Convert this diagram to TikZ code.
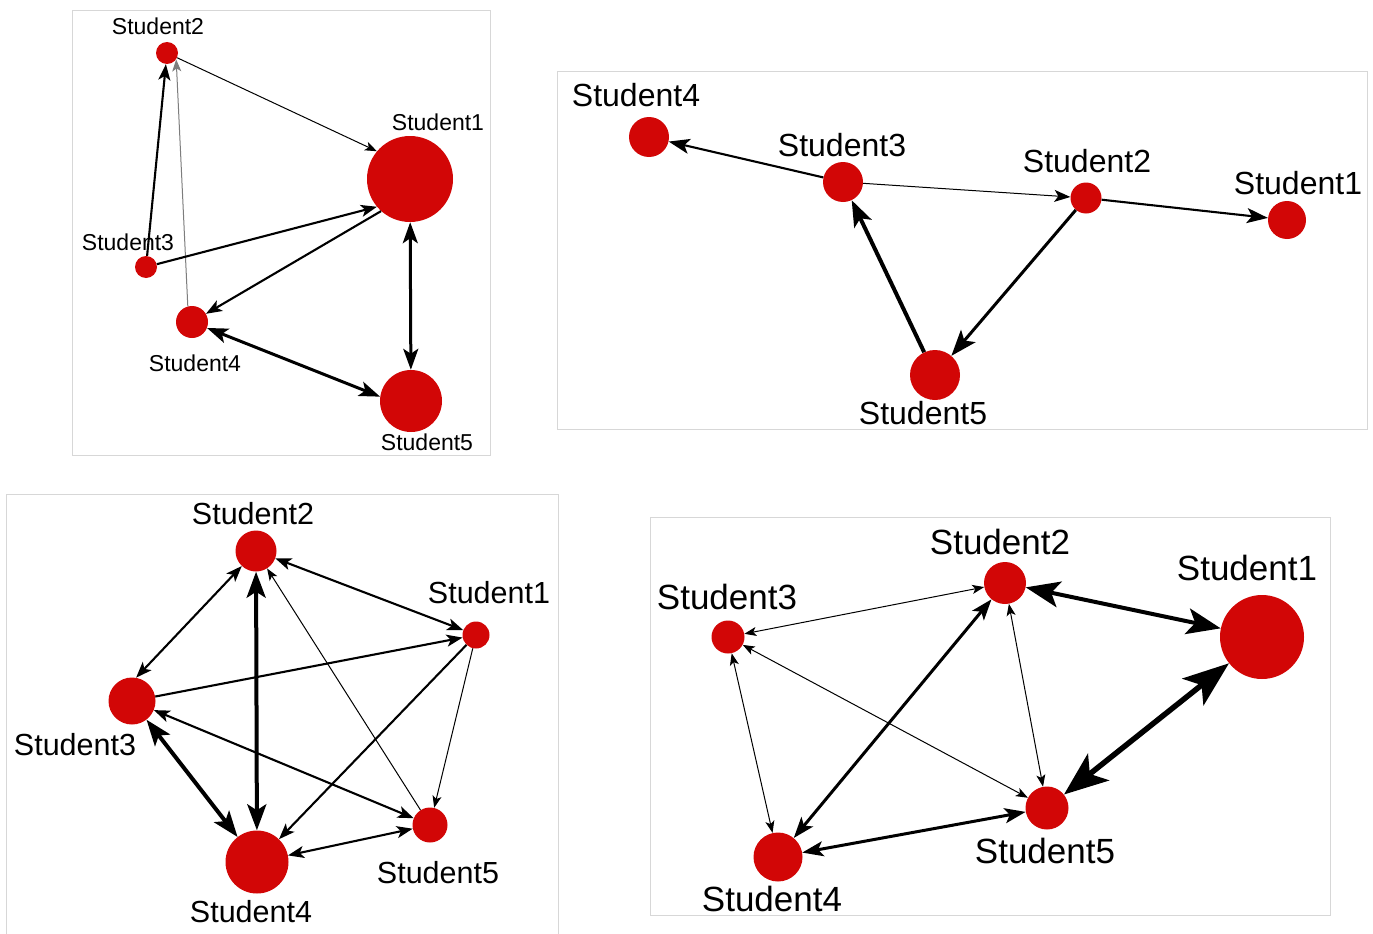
\documentclass[tikz,border=0pt]{standalone}
\usepackage{fontspec}
\setmainfont{Liberation Sans}
\usetikzlibrary{arrows.meta}
\definecolor{nodered}{RGB}{210,6,6}
\definecolor{framegray}{RGB}{215,215,215}
\definecolor{thingray}{RGB}{125,125,125}
\begin{document}
\begin{tikzpicture}[x=1pt,y=-1pt,
  nd/.style={circle,fill=nodered,draw=none,inner sep=0pt,minimum size=#1},
  fr/.style={draw=framegray,line width=0.8pt},
  la/.style={font=\fontsize{23}{25}\selectfont,inner sep=0pt},
  lb/.style={font=\fontsize{32}{35}\selectfont,inner sep=0pt},
  lc/.style={font=\fontsize{30.5}{33}\selectfont,inner sep=0pt},
  ld/.style={font=\fontsize{35}{38}\selectfont,inner sep=0pt},
  wa/.style={line width=1pt},
  wb/.style={line width=2.1pt},
  wc/.style={line width=3pt},
  wd/.style={line width=4pt},
  we/.style={line width=5.5pt},
  ta/.style={arrows={-Stealth[length=12pt,width=9pt,inset=3pt]}},
  tb/.style={arrows={-Stealth[length=16pt,width=12pt,inset=4pt]}},
  tc/.style={arrows={-Stealth[length=21pt,width=15pt,inset=5pt]}},
  td/.style={arrows={-Stealth[length=26pt,width=19pt,inset=6pt]}},
  tta/.style={arrows={Stealth[length=12pt,width=9pt,inset=3pt]-Stealth[length=12pt,width=9pt,inset=3pt]}},
  ttb/.style={arrows={Stealth[length=16pt,width=12pt,inset=4pt]-Stealth[length=16pt,width=12pt,inset=4pt]}},
  ttc/.style={arrows={Stealth[length=21pt,width=15pt,inset=5pt]-Stealth[length=21pt,width=15pt,inset=5pt]}},
  ttd/.style={arrows={Stealth[length=26pt,width=19pt,inset=6pt]-Stealth[length=26pt,width=19pt,inset=6pt]}},
  tte/.style={arrows={Stealth[length=34pt,width=26pt,inset=8pt]-Stealth[length=34pt,width=26pt,inset=8pt]}},
  ttf/.style={arrows={Stealth[length=44pt,width=34pt,inset=11pt]-Stealth[length=46pt,width=34pt,inset=11pt]}},
]
\useasboundingbox[fill=white] (0,0) rectangle (1373,934);

% ---------------- Panel 1 ----------------
\draw[fr] (72,10) rectangle (490,455);
\node[nd=86pt] (p1s1) at (410,179) {};
\node[nd=22pt] (p1s2) at (167,53) {};
\node[nd=22pt] (p1s3) at (146,267) {};
\node[nd=32pt] (p1s4) at (192,322) {};
\node[nd=62pt] (p1s5) at (411,401) {};
\node[la] (p1l1) at (438,122) {Student1};
\node[la] (p1l2) at (158,26) {Student2};
\node[la] (p1l3) at (128,242) {Student3};
\node[la] (p1l4) at (195,363) {Student4};
\node[la] (p1l5) at (427,442) {Student5};
\draw[wa,ta] (p1s2) -- (p1s1.140);
\draw[wb,tb] (p1s3) -- (p1s2);
\draw[wa,thingray,ta] (p1s4.105) -- (p1s2.-35);
\draw[wb,tb] (p1s3) -- (p1s1.220);
\draw[wb,tb] (p1s1.228) -- (p1s4);
\draw[wc,ttc] (p1s4) -- (p1s5.172);
\draw[wc,ttc] (p1s1) -- (p1s5);

% ---------------- Panel 2 ----------------
\draw[fr] (557,71) rectangle (1367,429);
\node[nd=40pt] (p2s4) at (649,137) {};
\node[nd=40pt] (p2s3) at (843,182) {};
\node[nd=31pt] (p2s2) at (1086,198) {};
\node[nd=38pt] (p2s1) at (1287,220) {};
\node[nd=50pt] (p2s5) at (935,375) {};
\node[lb] (p2l4) at (636,95) {Student4};
\node[lb] (p2l3) at (842,145) {Student3};
\node[lb] (p2l2) at (1087,161) {Student2};
\node[lb] (p2l1) at (1298,183) {Student1};
\node[lb] (p2l5) at (923,413) {Student5};
\draw[wb,tc] (p2s3) -- (p2s4);
\draw[wa,tb] (p2s3) -- (p2s2);
\draw[wb,tc] (p2s2) -- (p2s1);
\draw[wc,td] (p2s2) -- (p2s5);
\draw[wd,td] (p2s5) -- (p2s3);

% ---------------- Panel 3 ----------------
\draw[fr] (6,934) -- (6,494) -- (558,494) -- (558,934);
\node[nd=41pt] (p3s2) at (256,551) {};
\node[nd=27pt] (p3s1) at (476,635) {};
\node[nd=47pt] (p3s3) at (132,701) {};
\node[nd=35pt] (p3s5) at (430,825) {};
\node[nd=63pt] (p3s4) at (257,862) {};
\node[lc] (p3l2) at (253,514) {Student2};
\node[lc] (p3l1) at (489,593) {Student1};
\node[lc] (p3l3) at (75,745) {Student3};
\node[lc] (p3l5) at (438,873) {Student5};
\node[lc] (p3l4) at (251,912) {Student4};
\draw[wb,ttb] (p3s2) -- (p3s1);
\draw[wb,ttb] (p3s2) -- (p3s3.80);
\draw[wd,ttd] (p3s2) -- (p3s4);
\draw[wa,ta] (p3s5) -- (p3s2);
\draw[wb,tb] (p3s3) -- (p3s1);
\draw[wb,tb] (p3s1) -- (p3s4);
\draw[wa,ta] (p3s1) -- (p3s5);
\draw[wb,ttb] (p3s3) -- (p3s5);
\draw[wd,ttd] (p3s3) -- (p3s4);
\draw[wb,ttb] (p3s4) -- (p3s5);

% ---------------- Panel 4 ----------------
\draw[fr] (650,517) rectangle (1330,915);
\node[nd=42pt] (p4s2) at (1005,583) {};
\node[nd=84pt] (p4s1) at (1262,637) {};
\node[nd=33pt] (p4s3) at (728,637) {};
\node[nd=43pt] (p4s5) at (1047,808) {};
\node[nd=49pt] (p4s4) at (778,857) {};
\node[ld] (p4l2) at (1000,542) {Student2};
\node[ld] (p4l1) at (1247,568) {Student1};
\node[ld] (p4l3) at (727,597) {Student3};
\node[ld] (p4l5) at (1045,851) {Student5};
\node[ld] (p4l4) at (772,899) {Student4};
\draw[wa,tta] (p4s2) -- (p4s3);
\draw[wd,tte] (p4s2) -- (p4s1);
\draw[wc,ttc] (p4s2) -- (p4s4);
\draw[wa,tta] (p4s2) -- (p4s5);
\draw[wa,tta] (p4s3) -- (p4s4);
\draw[wa,tta] (p4s3) -- (p4s5);
\draw[we,ttf] (p4s5) -- (p4s1);
\draw[wc,ttc] (p4s4) -- (p4s5);
\end{tikzpicture}
\end{document}
